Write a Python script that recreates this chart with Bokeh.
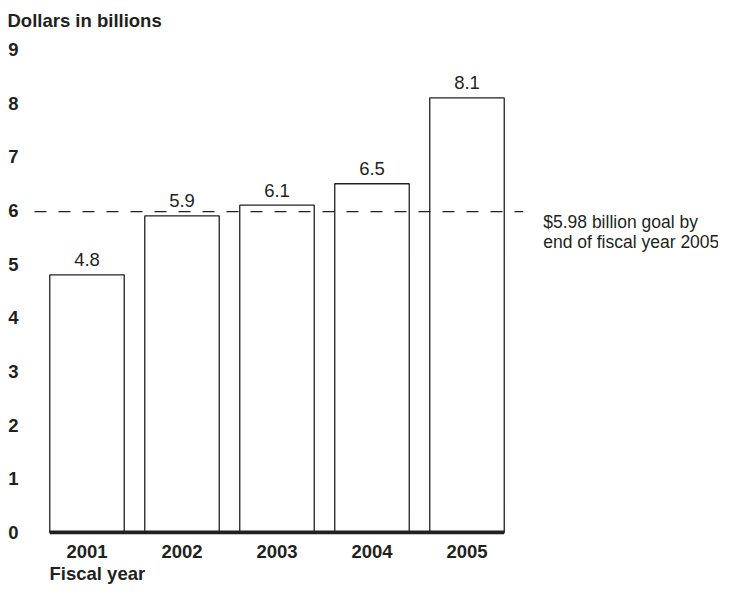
from bokeh.plotting import figure
from bokeh.models import FixedTicker, Label, Title, Range1d, ColumnDataSource
from bokeh.embed import file_html
from bokeh.resources import INLINE
from bokeh.core.properties import value

# ---- data ----
years = [2001, 2002, 2003, 2004, 2005]
amounts = [4.8, 5.9, 6.1, 6.5, 8.1]
bar_labels = ["4.8", "5.9", "6.1", "6.5", "8.1"]
y_ticks = [0, 1, 2, 3, 4, 5, 6, 7, 8, 9]
goal = 5.98
goal_text = ["$5.98 billion goal by", "end of fiscal year 2005"]
y_title = "Dollars in billions"
x_title = "Fiscal year"

FONT = "Liberation Sans"
INK = "#231f20"
BAR_W = 0.784
BOLD_SIZE = "18.5px"
REG_SIZE = "17.5px"
W = 718
LEFT = 34

x0 = 2000.4474
p = figure(width=W, height=584, output_backend="svg", toolbar_location=None,
           x_range=Range1d(x0, x0 + (W - LEFT) / 95.0), y_range=Range1d(-0.0375, 9.30),
           min_border_left=LEFT, min_border_right=0, min_border_top=33,
           min_border_bottom=10, outline_line_color=None, background_fill_color="white",
           border_fill_color="white")

p.xgrid.visible = False
p.ygrid.visible = False

# axes
yax = p.yaxis[0]
yax.ticker = FixedTicker(ticks=y_ticks)
yax.axis_line_color = None
yax.major_tick_line_color = None
yax.minor_tick_line_color = None
yax.major_tick_out = 0
yax.major_tick_in = 0
yax.minor_tick_out = 0
yax.major_label_standoff = 16
yax.major_label_text_font = FONT
yax.major_label_text_font_style = "bold"
yax.major_label_text_font_size = BOLD_SIZE
yax.major_label_text_color = INK

xax = p.xaxis[0]
xax.ticker = FixedTicker(ticks=years)
xax.axis_line_color = None
xax.major_tick_line_color = None
xax.minor_tick_line_color = None
xax.major_tick_out = 0
xax.major_tick_in = 0
xax.minor_tick_out = 0
xax.major_label_standoff = 10
xax.major_label_text_font = FONT
xax.major_label_text_font_style = "bold"
xax.major_label_text_font_size = BOLD_SIZE
xax.major_label_text_color = INK

# titles
p.title = Title(text=y_title, align="left", offset=-27, standoff=6, text_font=FONT,
                text_font_size=BOLD_SIZE, text_font_style="bold", text_color=INK)
p.add_layout(Title(text=x_title, align="left", offset=15, standoff=1, text_font=FONT,
                   text_font_size=BOLD_SIZE, text_font_style="bold", text_color=INK), "below")

src = ColumnDataSource(dict(x=years, top=amounts, lab=bar_labels))

p.vbar(x="x", top="top", width=BAR_W, source=src, fill_color="white",
       line_color=INK, line_width=1.3)

# thick baseline under the bars
p.segment(x0=[years[0] - BAR_W / 2], y0=[0], x1=[years[-1] + BAR_W / 2], y1=[0],
          line_color=INK, line_width=4)

p.text(x="x", y="top", text="lab", source=src, text_align="center",
       text_baseline="alphabetic", y_offset=-15, text_font=value(FONT),
       text_font_size="18.5px", text_color=INK)

# goal line (dashed), from left frame edge to a little past the last bar
goal_end = years[-1] + BAR_W / 2 + 0.2
p.segment(x0=[x0], y0=[goal], x1=[goal_end], y1=[goal], line_color=INK,
          line_width=1.3, line_dash="12 12", level="overlay")

for i, t in enumerate(goal_text):
    p.add_layout(Label(x=goal_end, y=goal, text=t, x_offset=20,
                       y_offset=-10 - 20 * i, text_baseline="alphabetic",
                       text_font=FONT, text_font_size=REG_SIZE, text_color=INK))

open("out.html", "w").write(file_html(p, INLINE))
